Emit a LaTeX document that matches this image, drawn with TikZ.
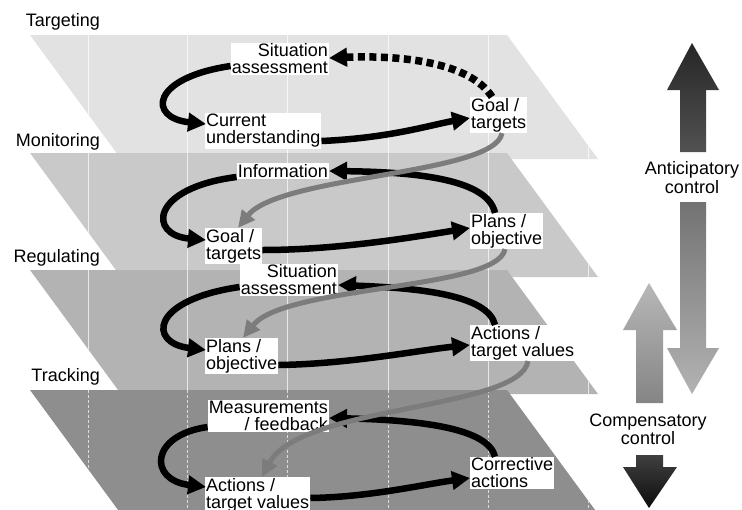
\documentclass[tikz,border=0pt]{standalone}
\usepackage{fontspec}
\setmainfont{Liberation Sans}
\usetikzlibrary{arrows.meta,calc}
\definecolor{ctgt}{HTML}{E2E2E2}
\definecolor{cmon}{HTML}{C9C9C9}
\definecolor{creg}{HTML}{B3B3B3}
\definecolor{ctrk}{HTML}{8E8E8E}
\definecolor{cgry}{HTML}{7C7C7C}
\begin{document}
\begin{tikzpicture}[x=1pt,y=-1pt,
  txt/.style={inner sep=1pt, font=\fontsize{18}{17}\selectfont},
  lbl/.style={txt, fill=white, align=left},
  blk/.style={line width=6.5pt, black, -{Triangle[length=18pt,width=18pt]}},
  dsh/.style={line width=7.5pt, black, dash pattern=on 7pt off 4.5pt, -{Triangle[length=18pt,width=18pt]}},
  gry/.style={line width=5pt, cgry, -{Triangle[length=17pt,width=16pt]}},
  vline/.style={white, line width=0.9pt, opacity=0.7},
  vsolid/.style={},
  vdash/.style={dash pattern=on 3pt off 2pt}
]
\useasboundingbox (0,0) rectangle (742,509);
\fill[white] (0,0) rectangle (742,509);

% planes
\foreach \T/\c/\d in {35/ctgt/vsolid,153/cmon/vsolid,270/creg/vsolid,390/ctrk/vdash}{
  \fill[\c] (30,\T) -- (507,\T) -- (598,{\T+124}) -- (121,{\T+124}) -- cycle;
  \begin{scope}
    \clip (30,\T) -- (507,\T) -- (598,{\T+124}) -- (121,{\T+124}) -- cycle;
    \foreach \x in {88,187,287,388,488,588}{
      \draw[vline,\d] (\x,\T) -- (\x,{\T+124});
    }
  \end{scope}
}

% plane labels
\node[txt, anchor=east] (ltgt) at (101,22) {Targeting};
\node[txt, anchor=east] (lmon) at (101,142) {Monitoring};
\node[txt, anchor=east] (lreg) at (101,258) {Regulating};
\node[txt, anchor=east] (ltrk) at (101,377) {Tracking};

% labels
\node[lbl, align=right, anchor=east] (sit1) at (329,59) {Situation\\assessment};
\node[lbl, anchor=west] (cur1) at (205,131) {Current\\understanding};
\node[lbl, anchor=west] (goal1) at (470,115) {Goal /\\targets};

\node[lbl, anchor=east] (info) at (329,171) {Information};
\node[lbl, anchor=west] (goal2) at (205,246) {Goal /\\targets};
\node[lbl, anchor=west] (plans2) at (470,231) {Plans /\\objective};

\node[lbl, align=right, anchor=east] (sit3) at (338,280) {Situation\\assessment};
\node[lbl, anchor=west] (plans3) at (205,356) {Plans /\\objective};
\node[lbl, anchor=west] (act3) at (470,343) {Actions /\\target values};

\node[lbl, align=right, anchor=east] (meas) at (329,416) {Measurements\\/ feedback};
\node[lbl, anchor=west] (act4) at (205,495) {Actions /\\target values};
\node[lbl, anchor=west] (corr) at (470,473) {Corrective\\actions};

% targeting loop
\draw[blk] ($(sit1.west)+(0,7)$) .. controls (150,78) and (148,118) .. ($(cur1.west)+(1,-7)$);
\draw[blk] ($(cur1.east)+(0,10)$) .. controls (390,138) and (430,125) .. ($(goal1.west)+(0,3)$);
\draw[dsh] ($(goal1.north west)+(22,0)$) .. controls (470,62) and (400,55) .. ($(sit1.east)+(0,-1)$);

% monitoring loop
\draw[blk] ($(info.west)+(0,6)$) .. controls (150,188) and (148,235) .. ($(goal2.west)+(1,-6)$);
\draw[blk] ($(goal2.east)+(0,4)$) .. controls (340,250) and (420,236) .. ($(plans2.west)+(0,-3)$);
\draw[blk] ($(plans2.north west)+(25,0)$) .. controls (488,180) and (420,172) .. (info.east);

% regulating loop
\draw[blk] ($(sit3.west)+(0,7)$) .. controls (150,300) and (148,343) .. ($(plans3.west)+(1,-6)$);
\draw[blk] ($(plans3.east)+(0,9)$) .. controls (350,364) and (420,350) .. ($(act3.west)+(0,2)$);
\draw[blk] ($(act3.north west)+(25,0)$) .. controls (488,295) and (420,288) .. ($(sit3.east)+(0,5)$);

% tracking loop
\draw[blk] ($(meas.west)+(0,11)$) .. controls (150,435) and (148,480) .. ($(act4.west)+(1,-8)$);
\draw[blk] ($(act4.east)+(0,3)$) .. controls (370,497) and (420,485) .. ($(corr.west)+(0,5)$);
\draw[blk] ($(corr.north west)+(25,0)$) .. controls (488,428) and (420,420) .. ($(meas.east)+(0,2)$);

% gray links between planes
\draw[gry] ($(goal1.south west)+(32,0)$) .. controls (495,175) and (280,175) .. ($(goal2.north west)+(33,0)$);
\draw[gry] ($(plans2.south west)+(35,0)$) .. controls (498,290) and (285,285) .. ($(plans3.north west)+(38,0)$);
\draw[gry] ($(act3.south west)+(58,0)$) .. controls (520,410) and (300,405) .. ($(act4.north west)+(57,0)$);

% side arrows
\shade[top color=black!85, bottom color=black!68]
  (692,43) -- (719,90) -- (706,90) -- (706,152) -- (680,152) -- (680,90) -- (667,90) -- cycle;
\shade[top color=black!55, bottom color=black!30]
  (680,202) -- (706,202) -- (706,348) -- (719,348) -- (692,394) -- (667,348) -- (680,348) -- cycle;
\shade[top color=black!28, bottom color=black!48]
  (649,283) -- (677,330) -- (663,330) -- (663,403) -- (636,403) -- (636,330) -- (623,330) -- cycle;
\shade[top color=black!75, bottom color=black!95]
  (636,455) -- (663,455) -- (663,467) -- (677,467) -- (649,508) -- (623,467) -- (636,467) -- cycle;

\node[txt, align=center, font=\fontsize{18}{19}\selectfont] (ant) at (692,178) {Anticipatory\\control};
\node[txt, align=center, font=\fontsize{18}{18}\selectfont] (comp) at (648,429) {Compensatory\\control};
\end{tikzpicture}
\end{document}
